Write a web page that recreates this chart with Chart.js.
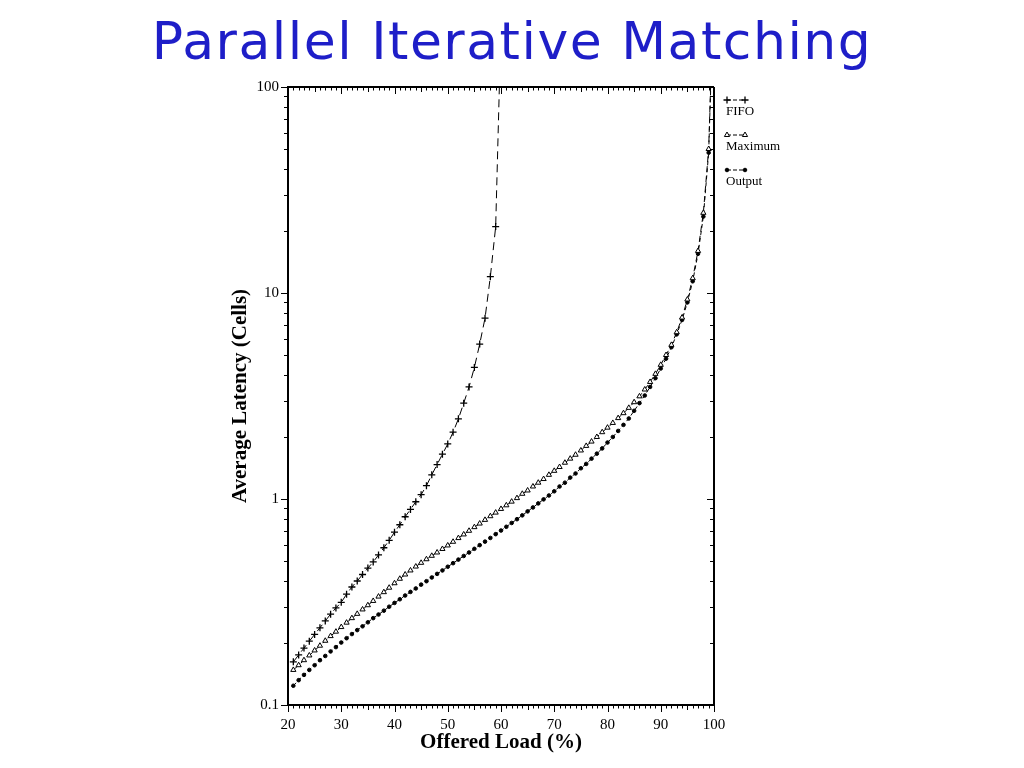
<!DOCTYPE html>
<html><head><meta charset="utf-8">
<script src="https://cdn.jsdelivr.net/npm/chart.js@4.4.0/dist/chart.umd.min.js"></script>
<style>
html,body{margin:0;padding:0;background:#fff;width:1024px;height:768px;overflow:hidden;}
#title{position:absolute;left:0;top:15px;width:1024px;text-align:center;font-family:"DejaVu Sans";font-size:52px;line-height:52px;letter-spacing:1.5px;color:#1e1ec8;white-space:nowrap;}
#c{position:absolute;left:0;top:0;}
</style></head><body>
<canvas id="c" width="1024" height="768"></canvas>
<div id="title">Parallel Iterative Matching</div>
<script>
// ---- data ----
const seriesNames = ['FIFO', 'Maximum', 'Output'];
const yTickLabels = ['0.1', '1', '10', '100'];
const yTickValues = [0.1, 1, 10, 100];
const xTickLabels = ['20', '30', '40', '50', '60', '70', '80', '90', '100'];

const fifoLoad = [21,22,23,24,25,26,27,28,29,30,31,32,33,34,35,36,37,38,39,40,
                  41,42,43,44,45,46,47,48,49,50,51,52,53,54,55,56,57,58,59,60];
const fifoLatency = [0.162,0.175,0.189,0.204,0.220,0.237,0.256,0.276,0.296,0.315,
                     0.345,0.374,0.400,0.430,0.462,0.495,0.535,0.580,0.630,0.690,
                     0.750,0.820,0.890,0.970,1.05,1.16,1.31,1.47,1.65,1.85,
                     2.11,2.45,2.92,3.50,4.35,5.65,7.55,12.0,21.0,200];

const load = [21,22,23,24,25,26,27,28,29,30,31,32,33,34,35,36,37,38,39,40,
              41,42,43,44,45,46,47,48,49,50,51,52,53,54,55,56,57,58,59,60,
              61,62,63,64,65,66,67,68,69,70,71,72,73,74,75,76,77,78,79,80,
              81,82,83,84,85,86,87,88,89,90,91,92,93,94,95,96,97,98,99,99.6];
const maximumLatency = [0.148,0.156,0.165,0.174,0.184,0.194,0.205,0.216,0.227,0.239,
                        0.251,0.264,0.277,0.291,0.305,0.320,0.336,0.353,0.371,0.390,
                        0.410,0.430,0.450,0.470,0.490,0.510,0.530,0.550,0.572,0.595,
                        0.620,0.646,0.673,0.701,0.730,0.760,0.792,0.825,0.859,0.895,
                        0.932,0.971,1.01,1.06,1.10,1.15,1.20,1.25,1.31,1.37,
                        1.43,1.50,1.57,1.64,1.72,1.81,1.90,2.00,2.11,2.22,
                        2.34,2.47,2.61,2.77,2.95,3.15,3.40,3.70,4.05,4.48,
                        5.00,5.60,6.45,7.60,9.3,11.8,16.0,24.5,50,160];
const outputLatency = [0.124,0.132,0.140,0.148,0.156,0.165,0.173,0.182,0.191,0.201,
                       0.211,0.221,0.231,0.241,0.252,0.264,0.275,0.287,0.300,0.313,
                       0.326,0.340,0.354,0.368,0.384,0.399,0.416,0.433,0.450,0.469,
                       0.488,0.508,0.529,0.550,0.573,0.597,0.621,0.647,0.675,0.703,
                       0.733,0.765,0.798,0.833,0.871,0.910,0.952,0.996,1.04,1.09,
                       1.15,1.20,1.27,1.33,1.41,1.48,1.57,1.66,1.76,1.88,
                       2.00,2.14,2.29,2.46,2.68,2.92,3.18,3.50,3.86,4.30,
                       4.80,5.45,6.30,7.40,9.0,11.4,15.5,23.5,48,150];

const serif = '"Liberation Serif", "DejaVu Serif", serif';

function pts(xs, ys) { return xs.map((x, i) => ({x: x, y: ys[i]})); }

const styles = [
  {pointStyle: 'cross', pointRadius: 3.5, pointBorderWidth: 1.3, pointBackgroundColor: '#000', borderDash: [8, 5]},
  {pointStyle: 'triangle', pointRadius: 3, pointBorderWidth: 1, pointBackgroundColor: '#fff', borderDash: [6, 4]},
  {pointStyle: 'circle', pointRadius: 1.8, pointBorderWidth: 1, pointBackgroundColor: '#000', borderDash: [4, 3]}
];

const frame = {
  id: 'frame',
  afterDraw(chart) {
    const ctx = chart.ctx, a = chart.chartArea, xs = chart.scales.x, ys = chart.scales.y;
    ctx.save();
    ctx.strokeStyle = '#000';
    ctx.lineWidth = 2;
    ctx.beginPath();
    ctx.moveTo(a.left, a.top); ctx.lineTo(a.right, a.top);
    ctx.moveTo(a.right, a.top); ctx.lineTo(a.right, a.bottom);
    ctx.stroke();
    ctx.lineWidth = 1;
    ctx.beginPath();
    for (let v = 20; v <= 100; v++) {
      const px = Math.round(xs.getPixelForValue(v)) + 0.5;
      const len = v % 10 === 0 ? 7 : (v % 5 === 0 ? 5 : 3.5);
      ctx.moveTo(px, a.bottom); ctx.lineTo(px, a.bottom + len);
      ctx.moveTo(px, a.top); ctx.lineTo(px, a.top + len);
    }
    [0.1, 1, 10].forEach(d => {
      for (let k = 1; k <= 10; k++) {
        const py = Math.round(ys.getPixelForValue(d * k)) + 0.5;
        const len = (k === 1 || k === 10) ? 7 : 4;
        ctx.moveTo(a.left - len, py); ctx.lineTo(a.left, py);
        ctx.moveTo(a.right - len, py); ctx.lineTo(a.right, py);
      }
    });
    ctx.stroke();
    // legend
    const lx = a.right + 13;
    chart.data.datasets.forEach((ds, i) => {
      const y0 = a.top + 13 + i * 35;
      ctx.save();
      ctx.lineWidth = 1;
      ctx.setLineDash([4, 2]);
      ctx.beginPath(); ctx.moveTo(lx, y0); ctx.lineTo(lx + 18, y0); ctx.stroke();
      ctx.restore();
      [lx, lx + 18].forEach(px => {
        ctx.fillStyle = ds.pointBackgroundColor;
        ctx.strokeStyle = '#000';
        ctx.lineWidth = ds.pointBorderWidth;
        Chart.helpers.drawPoint(ctx, {pointStyle: ds.pointStyle, radius: ds.pointRadius, borderWidth: ds.pointBorderWidth, rotation: 0}, px, y0);
      });
      ctx.fillStyle = '#000';
      ctx.font = '13px ' + serif;
      ctx.textBaseline = 'middle';
      ctx.textAlign = 'left';
      ctx.fillText(ds.label, lx - 1, y0 + 12);
    });
    ctx.restore();
  }
};

new Chart(document.getElementById('c'), {
  type: 'line',
  data: {
    datasets: [
      Object.assign({label: seriesNames[0], data: pts(fifoLoad, fifoLatency)}, styles[0]),
      Object.assign({label: seriesNames[1], data: pts(load, maximumLatency)}, styles[1]),
      Object.assign({label: seriesNames[2], data: pts(load, outputLatency)}, styles[2])
    ].map(d => Object.assign(d, {borderColor: '#000', pointBorderColor: '#000', borderWidth: 1, fill: false, tension: 0}))
  },
  options: {
    responsive: false,
    animation: false,
    devicePixelRatio: 1,
    layout: {padding: {left: 220, right: 310, top: 87, bottom: 10}},
    plugins: {legend: {display: false}, tooltip: {enabled: false}},
    scales: {
      x: {
        type: 'linear', position: 'bottom', min: 20, max: 100,
        afterBuildTicks: s => { s.ticks = xTickLabels.map(t => ({value: Number(t)})); },
        ticks: {callback: (v, i) => xTickLabels[i], color: '#000', font: {family: serif, size: 15}, padding: 3, maxRotation: 0, autoSkip: false},
        grid: {display: false},
        border: {display: true, color: '#000', width: 2},
        title: {display: true, text: 'Offered Load (%)', color: '#000', font: {family: serif, size: 21, weight: 'bold'}, padding: {top: 0, bottom: 3}},
        afterFit: s => { s.height = 53; }
      },
      y: {
        type: 'logarithmic', position: 'left', min: 0.1, max: 100,
        afterBuildTicks: s => { s.ticks = yTickValues.map(v => ({value: v})); },
        ticks: {callback: (v, i) => yTickLabels[i], color: '#000', font: {family: serif, size: 15}, padding: 1, autoSkip: false},
        grid: {display: false},
        border: {display: true, color: '#000', width: 2},
        title: {display: true, text: 'Average Latency (Cells)', color: '#000', font: {family: serif, size: 21, weight: 'bold'}, padding: {top: 8, bottom: 0}},
        afterFit: s => { s.width = 68; }
      }
    }
  },
  plugins: [frame]
});
</script>
</body></html>
